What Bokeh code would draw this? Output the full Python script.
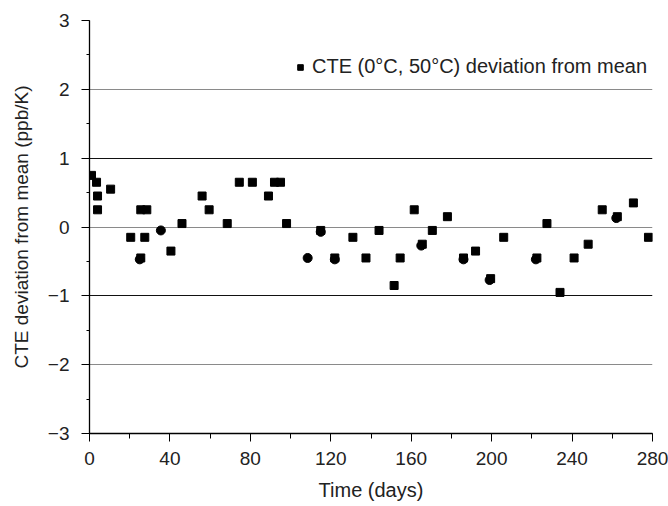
from bokeh.plotting import figure
from bokeh.models import FixedTicker, Grid, Range1d, Legend, LegendItem
from bokeh.embed import file_html
from bokeh.resources import INLINE

# Data
sq_days = [1, 3.5, 4, 4, 10.5, 20.5, 25.5, 28.5, 27.5, 25.5, 40.5, 46, 56, 59.5,
           68.5, 74.5, 81, 89, 92, 95, 98, 115, 122, 131, 137.5, 144, 151.5,
           154.5, 161.5, 165.5, 170.5, 178, 186, 192, 199.5, 206, 222.5, 227.5,
           234, 241, 248, 255, 262.5, 270.5, 278]
sq_vals = [0.75, 0.65, 0.45, 0.25, 0.55, -0.15, 0.25, 0.25, -0.15, -0.45, -0.35,
           0.05, 0.45, 0.25, 0.05, 0.65, 0.65, 0.45, 0.65, 0.65, 0.05, -0.05,
           -0.45, -0.15, -0.45, -0.05, -0.85, -0.45, 0.25, -0.25, -0.05, 0.15,
           -0.45, -0.35, -0.75, -0.15, -0.45, 0.05, -0.95, -0.45, -0.25, 0.25,
           0.15, 0.35, -0.15]
circ_days = [25, 35.5, 108.5, 115, 122, 165, 186, 199, 222, 262]
circ_vals = [-0.47, -0.05, -0.45, -0.07, -0.47, -0.27, -0.47, -0.77, -0.47, 0.13]

x_ticks = [0, 40, 80, 120, 160, 200, 240, 280]
y_ticks = [-3, -2, -1, 0, 1, 2, 3]
y_labels = {-3: "\u22123", -2: "\u22122", -1: "\u22121", 0: "0", 1: "1", 2: "2", 3: "3"}
legend_label = "CTE (0°C, 50°C) deviation from mean"
x_title = "Time (days)"
y_title = "CTE deviation from mean (ppb/K)"

FONT = "Liberation Sans"
TXT = "#222222"

p = figure(width=668, height=506, output_backend="svg", toolbar_location=None,
           x_range=Range1d(0, 280), y_range=Range1d(-3, 3),
           min_border_left=89, min_border_right=16, min_border_top=20,
           min_border_bottom=73)
p.outline_line_color = None
p.background_fill_color = "white"
p.border_fill_color = "white"

# grids
p.xgrid.visible = False
p.ygrid.ticker = FixedTicker(ticks=[-2, 0, 2])
p.ygrid.grid_line_color = "#8a8a8a"
p.ygrid.grid_line_width = 1.2
g2 = Grid(dimension=1, ticker=FixedTicker(ticks=[-1, 1]),
          grid_line_color="#111111", grid_line_width=1.2)
p.add_layout(g2)

# x axis
xa = p.xaxis[0]
xa.ticker = FixedTicker(ticks=x_ticks, minor_ticks=list(range(0, 281, 20)))
xa.axis_line_color = "black"
xa.axis_line_width = 1.3
xa.major_tick_line_color = "black"
xa.minor_tick_line_color = "black"
xa.major_tick_in = 0
xa.major_tick_out = 8
xa.minor_tick_in = 0
xa.minor_tick_out = 5
xa.major_label_text_font = FONT
xa.major_label_text_font_size = "19px"
xa.major_label_text_color = TXT
xa.major_label_standoff = 10
xa.axis_label = x_title
xa.axis_label_text_font = FONT
xa.axis_label_text_font_size = "20px"
xa.axis_label_text_font_style = "normal"
xa.axis_label_text_color = TXT
xa.axis_label_standoff = 11

# y axis
ya = p.yaxis[0]
ya.ticker = FixedTicker(ticks=y_ticks, minor_ticks=[v / 2 for v in range(-6, 7)])
ya.major_label_overrides = y_labels
ya.axis_line_color = "black"
ya.axis_line_width = 1.3
ya.major_tick_line_color = "black"
ya.minor_tick_line_color = "black"
ya.major_tick_in = 0
ya.major_tick_out = 8
ya.minor_tick_in = 0
ya.minor_tick_out = 3
ya.major_label_text_font = FONT
ya.major_label_text_font_size = "19px"
ya.major_label_text_color = TXT
ya.major_label_standoff = 12
ya.axis_label = y_title
ya.axis_label_text_font = FONT
ya.axis_label_text_font_size = "19px"
ya.axis_label_text_font_style = "normal"
ya.axis_label_text_color = TXT
ya.axis_label_standoff = 13

# data
p.scatter(circ_days, circ_vals, marker="circle", size=9, fill_color="black",
          line_color="black")
r_sq = p.scatter(sq_days, sq_vals, marker="square", size=8, fill_color="black",
                 line_color="black")

legend = Legend(items=[LegendItem(label=legend_label, renderers=[r_sq])],
                location=(204, 355), orientation="vertical")
legend.background_fill_alpha = 0
legend.border_line_color = None
legend.padding = 0
legend.margin = 0
legend.spacing = 0
legend.glyph_width = 14
legend.glyph_height = 20
legend.label_standoff = 5
legend.label_text_font = FONT
legend.label_text_font_size = "20px"
legend.label_text_color = TXT
p.add_layout(legend, "center")

open("out.html", "w").write(file_html(p, INLINE))
